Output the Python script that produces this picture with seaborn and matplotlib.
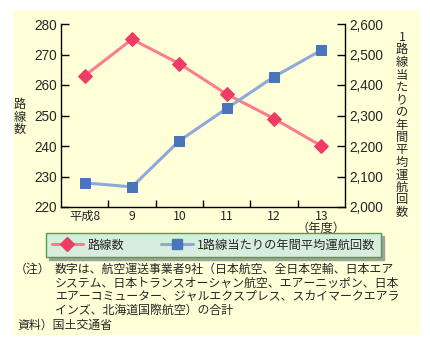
import matplotlib
matplotlib.use("Agg")
import matplotlib.pyplot as plt
import seaborn as sns
import pandas as pd
from matplotlib.patches import Rectangle
from matplotlib.lines import Line2D

sns.set_theme(style="white")
plt.rcParams['font.family'] = ['Noto Sans CJK JP', 'DejaVu Sans']

years = ["平成8", "9", "10", "11", "12", "13"]
routes = [263, 275, 267, 257, 249, 240]
avg_flights = [2079, 2066, 2217, 2323, 2427, 2514]
left_ticks = [220, 230, 240, 250, 260, 270, 280]
right_ticks = [2000, 2100, 2200, 2300, 2400, 2500, 2600]
right_tick_labels = ["2,000", "2,100", "2,200", "2,300", "2,400", "2,500", "2,600"]
label_left = "路線数"
label_right = "1路線当たりの年間平均運航回数"
note_lines = [
    "数字は、航空運送事業者9社（日本航空、全日本空輸、日本エア",
    "システム、日本トランスオーシャン航空、エアーニッポン、日本",
    "エアーコミューター、ジャルエクスプレス、スカイマークエアラ",
    "インズ、北海道国際航空）の合計",
]
source = "資料）国土交通省"

RED_LINE = "#FF7C90"
RED_MK = "#F03C64"
BLUE_LINE = "#8EA8D8"
BLUE_MK = "#4A74BC"
BG = "#FFFFD8"

W, H = 430, 344
fig = plt.figure(figsize=(W / 100, H / 100), dpi=100)
fig.patch.set_facecolor("white")
fig.patches.append(Rectangle((13 / W, 1 - 335 / H), (420 - 13) / W, (335 - 10) / H,
                             transform=fig.transFigure, facecolor=BG, edgecolor="none", zorder=-5))

ax = fig.add_axes([61 / W, 1 - 207 / H, (345 - 61) / W, (207 - 24) / H])
ax.patch.set_alpha(0)
ax2 = ax.twinx()
ax2.patch.set_alpha(0)

df = pd.DataFrame({"x": list(range(len(years))), "routes": routes, "avg": avg_flights})
sns.lineplot(data=df, x="x", y="routes", ax=ax, color=RED_LINE, linewidth=2.2,
             marker="D", markersize=7, markerfacecolor=RED_MK, markeredgecolor=RED_MK, zorder=3)
sns.lineplot(data=df, x="x", y="avg", ax=ax2, color=BLUE_LINE, linewidth=2.2,
             marker="s", markersize=6.5, markerfacecolor=BLUE_MK, markeredgecolor=BLUE_MK, zorder=3)

for a in (ax, ax2):
    a.set_xlim(-0.5, 5.5)
    a.set_xlabel("")
    a.set_ylabel("")
    a.spines["top"].set_visible(False)
    for s in ["left", "right", "bottom"]:
        a.spines[s].set_color("black")
        a.spines[s].set_linewidth(1.0)
ax.spines["right"].set_visible(False)
ax2.spines["left"].set_visible(False)
ax2.spines["bottom"].set_visible(False)

tick_font = ['Liberation Sans', 'DejaVu Sans']
ax.set_ylim(220, 280)
ax.set_yticks(left_ticks)
ax.set_yticklabels([str(v) for v in left_ticks], fontsize=9.8, family=tick_font)
ax2.set_ylim(2000, 2600)
ax2.set_yticks(right_ticks)
ax2.set_yticklabels(right_tick_labels, fontsize=9.8, family=tick_font)

ax.set_xticks(range(len(years)))
ax.set_xticklabels(years, fontsize=8.8)
ax.set_xticks([i + 0.5 for i in range(len(years) - 1)], minor=True)
ax.tick_params(axis="x", which="major", length=0, pad=2)
ax.tick_params(axis="x", which="minor", direction="in", length=5, width=1, color="black", bottom=True)
ax.tick_params(axis="y", direction="in", length=6, width=1, color="black", left=True, pad=3)
ax2.tick_params(axis="y", direction="in", length=6, width=1, color="black", right=True, pad=3)

fig.text(321 / W, 1 - 228 / H, "（年度）", fontsize=8.8, ha="center", va="center")

fig.text(20 / W, 1 - 117 / H, "\n".join(label_left), fontsize=8.8, ha="center", va="center",
         linespacing=0.98)
fig.text(402 / W, 1 - 125 / H, "\n".join(label_right), fontsize=8.8, ha="center", va="center",
         linespacing=0.95)

# legend
handles = [
    Line2D([0], [0], color=RED_LINE, lw=2.2, marker="D", markersize=7,
           markerfacecolor=RED_MK, markeredgecolor=RED_MK),
    Line2D([0], [0], color=BLUE_LINE, lw=2.2, marker="s", markersize=6.5,
           markerfacecolor=BLUE_MK, markeredgecolor=BLUE_MK),
]
leg = fig.legend(handles, [label_left, label_right], loc="center",
                 bbox_to_anchor=((44 + 383) / 2 / W, 1 - 245 / H), ncol=2,
                 fontsize=8.8, frameon=True, fancybox=False, shadow={'color': '#A0A0A0', 'alpha': 1},
                 borderpad=0.45, handlelength=2.6, columnspacing=3.0, handletextpad=0.35)
leg.get_frame().set_facecolor("#D8EEDC")
leg.get_frame().set_edgecolor("#4CA04C")
leg.get_frame().set_linewidth(1.0)

# notes
fig.text(15 / W, 1 - 269 / H, "（注）", fontsize=8.6, ha="left", va="center")
ys = [269, 283, 296, 310]
for y, line in zip(ys, note_lines):
    fig.text(55 / W, 1 - y / H, line, fontsize=8.6, ha="left", va="center")
fig.text(17 / W, 1 - 325 / H, source, fontsize=8.6, ha="left", va="center")

fig.savefig("out.png", dpi=100, facecolor="white")
